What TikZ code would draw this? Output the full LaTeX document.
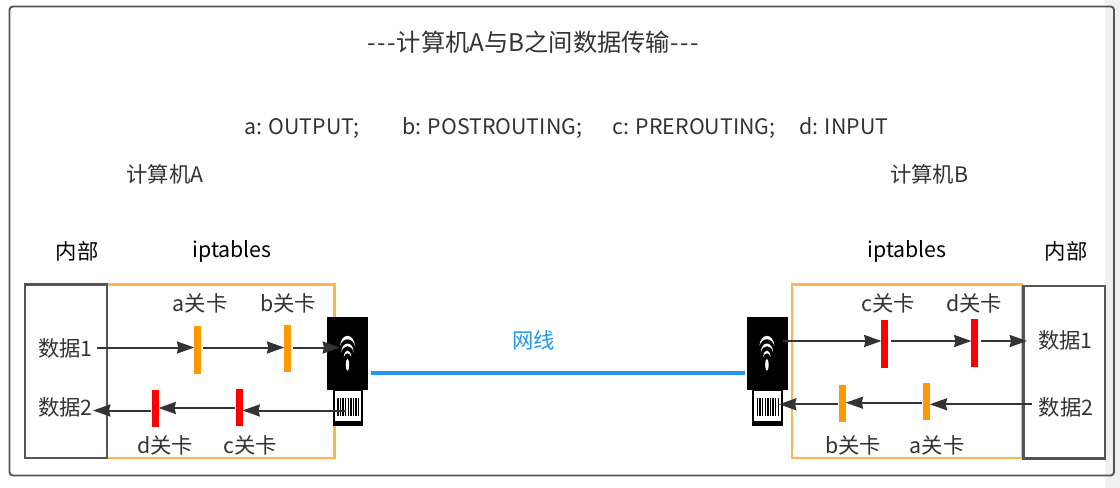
\documentclass[tikz,border=0pt]{standalone}
\usepackage{fontspec}
\setmainfont{Noto Sans CJK SC}
\usetikzlibrary{arrows.meta}
\definecolor{ink}{HTML}{333333}
\definecolor{frame}{HTML}{555555}
\definecolor{amber}{HTML}{FF9900}
\definecolor{rim}{HTML}{FFB54D}
\definecolor{netblue}{HTML}{2196F3}
\definecolor{strip}{HTML}{F0F0F0}
\tikzset{
  x=.75pt,y=-.75pt,
  txt/.style={inner sep=0pt,text=ink,font=\fontsize{16pt}{19pt}\selectfont},
  head/.style={inner sep=0pt,text=black,font=\fontsize{16pt}{19pt}\selectfont},
  flow/.style={draw=ink,line width=1.5pt,-{Stealth[length=13pt,width=9pt,inset=1pt]},shorten <=1pt,shorten >=0pt},
  boxframe/.style={draw=frame,line width=1.6pt},
  rimbox/.style={draw=rim,line width=1.6pt},
  gatea/.style={fill=amber,inner sep=0pt,minimum width=4.7pt,outer sep=0pt},
  gater/.style={fill=red,inner sep=0pt,minimum width=4.7pt,outer sep=0pt},
}
\newcommand{\hy}{\makebox[7.5pt]{-}}
\newcommand{\dongle}[2]{% x of body left, x of plug left
  \fill[black] (#1,316.5) rectangle ++(41,73.5);
  \fill[black] (#2,390) rectangle ++(30.5,36);
  \fill[white] (#2+2,391) rectangle ++(26.5,30);
  \foreach \i in {0,...,8} \fill[black] (#2+4.5+\i*2.6,398) rectangle ++(1.4,18);
  \begin{scope}[shift={(#1+20.2,0)}]
    \fill[white] (-7.5,346) .. controls (-6.5,332.5) and (6.5,332.5) .. (7.5,346) .. controls (5,337) and (-5,337) .. (-7.5,346) -- cycle;
    \fill[white] (-6.3,352.5) .. controls (-5.5,340.5) and (5.5,340.5) .. (6.3,352.5) .. controls (4,344) and (-4,344) .. (-6.3,352.5) -- cycle;
    \fill[white] (-3.7,357) .. controls (-3.2,348.5) and (3.2,348.5) .. (3.7,357) .. controls (2.2,352) and (-2.2,352) .. (-3.7,357) -- cycle;
    \fill[white] (0,364.8) ellipse [x radius=1.7,y radius=6];
  \end{scope}
}
\begin{document}
\begin{tikzpicture}
\useasboundingbox (0,0) rectangle (1120,488);
\fill[white] (0,0) rectangle (1120,488);
\fill[strip] (1105,0) rectangle (1120,488);
\draw[frame,line width=1.4pt,rounded corners=2.5pt] (9.5,6.5) rectangle (1114,475.5);

\node[inner sep=0pt,text=ink,font=\fontsize{18.2pt}{21pt}\selectfont] (title) at (533.5,42) {\hy\hy\hy 计算机A与B之间数据传输\hy\hy\hy};
\node[txt,anchor=west] (legend) at (244,128.5) {a: OUTPUT;\hspace{32pt}b: POSTROUTING;\hspace{23pt}c: PREROUTING;\hspace{18pt}d: INPUT};
\node[txt] (ca) at (165,174) {计算机A};
\node[txt] (cb) at (929,174) {计算机B};
\node[head] (ina) at (77,251) {内部};
\node[head] (ipa) at (232,251.5) {iptables};
\node[head] (ipb) at (907,251.5) {iptables};
\node[head] (inb) at (1066,251) {内部};

% left machine
\draw[rimbox] (107,284.5) rectangle (334.5,458);
\draw[boxframe] (25,284.5) rectangle (107,458);
\node[txt] (a1) at (65.5,348) {数据1};
\node[txt] (a2) at (65.5,407) {数据2};
\node[gatea,minimum height=36pt] (la) at (197.4,350) {};
\node[gatea,minimum height=35.5pt] (lb) at (287.4,348.3) {};
\node[gater,minimum height=28pt] (ld) at (155.4,408.8) {};
\node[gater,minimum height=28pt] (lc) at (239.4,407.5) {};
\node[txt] (tla) at (200,303) {a关卡};
\node[txt] (tlb) at (288,303) {b关卡};
\node[txt] (tld) at (165,445) {d关卡};
\node[txt] (tlc) at (250,445) {c关卡};
\dongle{327.3}{332.7}
\coordinate (lin) at (340,347.5);
\coordinate (lout) at (347,410.5);
\draw[flow] (a1.east |- 0,347.5) ++(2.5,0) -- (la.west |- 0,347.5);
\draw[flow] (la.east |- 0,347.5) ++(1.5,0) -- (lb.west |- 0,347.5);
\draw[flow] (lb.east |- 0,347.5) ++(1.5,0) -- (lin);
\draw[flow] (lout) -- (lc.east |- 0,410.5);
\draw[flow] (lc.west |- 0,408) -- (ld.east |- 0,408);
\draw[flow] (ld.west |- 0,410.5) -- (a2.east |- 0,410.5);

% right machine
\draw[rimbox] (792,284.5) rectangle (1022,458);
\draw[boxframe] (1023.5,286) rectangle (1105,458.5);
\node[txt] (b1) at (1065.5,340) {数据1};
\node[txt] (b2) at (1066,407) {数据2};
\node[gater,minimum height=36pt] (rc) at (884.6,343.8) {};
\node[gater,minimum height=36pt] (rd) at (974.6,342.6) {};
\node[gatea,minimum height=28pt] (rb) at (842.6,403.4) {};
\node[gatea,minimum height=28pt] (ra) at (926.6,401.8) {};
\node[txt] (trc) at (888,303) {c关卡};
\node[txt] (trd) at (974,303) {d关卡};
\node[txt] (trb) at (853,445) {b关卡};
\node[txt] (tra) at (937,445) {a关卡};
\dongle{746.7}{752.2}
\coordinate (rout) at (782,341);
\coordinate (rin) at (779,404.3);
\coordinate (rend) at (1027,341);
\coordinate (rstart) at (1033,404.3);
\draw[flow] (rout) -- (rc.west |- 0,341);
\draw[flow] (rc.east |- 0,341) ++(1.5,0) -- (rd.west |- 0,341);
\draw[flow] (rd.east |- 0,341) ++(1.5,0) -- (rend);
\draw[flow] (rstart) -- (ra.east |- 0,404.3);
\draw[flow] (ra.west |- 0,402.7) -- (rb.east |- 0,402.7);
\draw[flow] (rb.west |- 0,404.3) -- (rin);

% wire
\coordinate (wl) at (370.5,373);
\coordinate (wr) at (745,373);
\draw[netblue,line width=3.6pt] (wl) -- (wr);
\node[inner sep=0pt,text=netblue,font=\fontsize{16pt}{19pt}\selectfont] (wire) at (533.5,340.5) {网线};
\end{tikzpicture}
\end{document}
